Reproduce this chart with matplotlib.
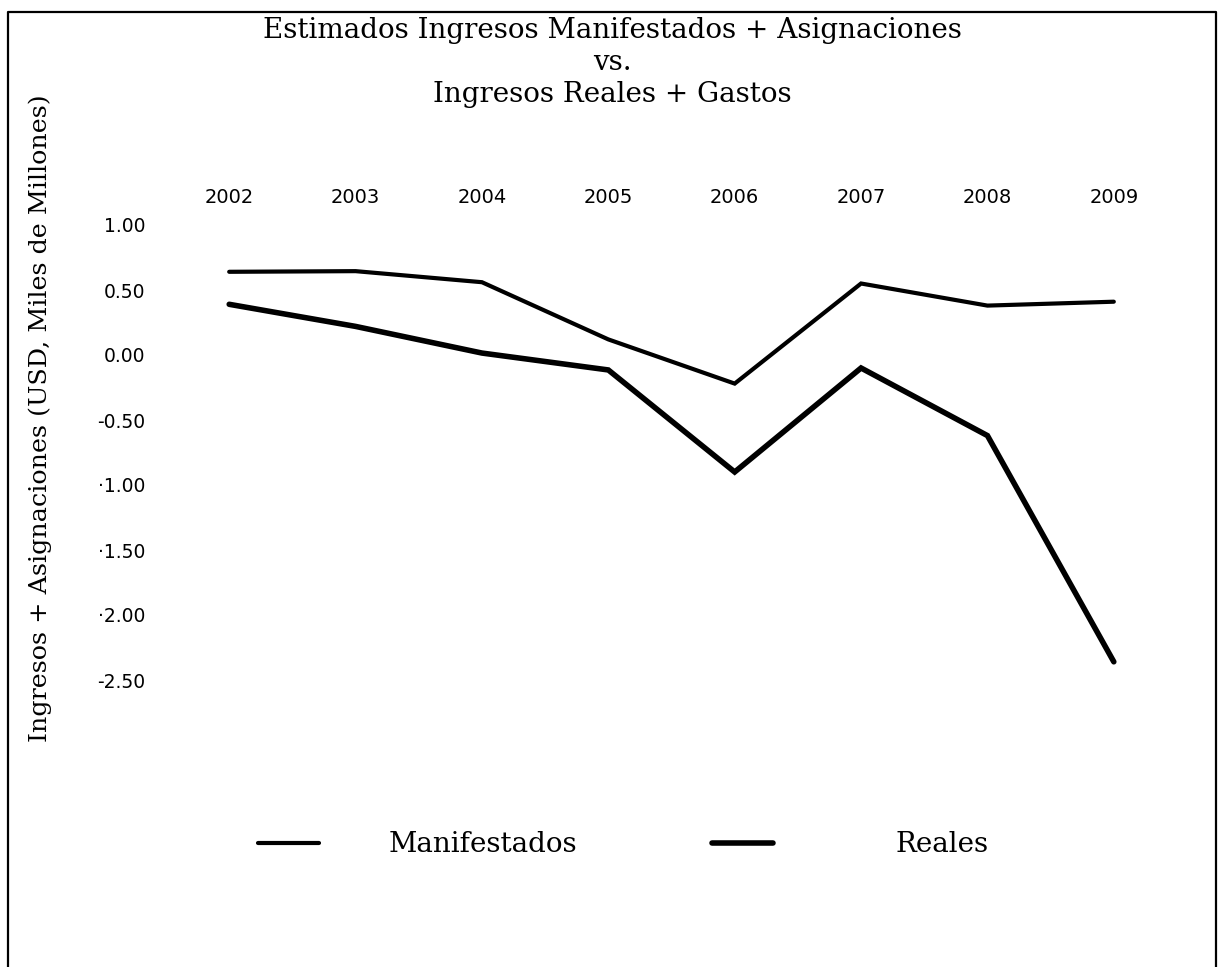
import matplotlib
matplotlib.use("Agg")
import matplotlib.pyplot as plt
from matplotlib.lines import Line2D

years = [2002, 2003, 2004, 2005, 2006, 2007, 2008, 2009]
manifestados = [0.64, 0.645, 0.56, 0.12, -0.22, 0.55, 0.38, 0.41]
reales = [0.39, 0.22, 0.015, -0.115, -0.90, -0.10, -0.62, -2.36]
yticks = [1.0, 0.5, 0.0, -0.5, -1.0, -1.5, -2.0, -2.5]
ytick_labels = ["1.00", "0.50", "0.00", "-0.50", "·1.00", "·1.50", "·2.00", "-2.50"]
title_lines = ["Estimados Ingresos Manifestados + Asignaciones", "vs.", "Ingresos Reales + Gastos"]
ylabel = "Ingresos + Asignaciones (USD, Miles de Millones)"

W, H = 1220, 967
fig = plt.figure(figsize=(W / 100, H / 100), dpi=100)
fig.patch.set_facecolor("white")

# border (left, top, right)
bx0, bx1, by1 = 8 / W, 1216 / W, 1 - 12 / H
fig.add_artist(Line2D([bx0, bx0, bx1, bx1], [0, by1, by1, 0], transform=fig.transFigure,
                      color="black", lw=1.6))

ax = fig.add_axes([166 / W, 1 - 810 / H, (1177 - 166) / W, (810 - 225) / H])
ax.set_xlim(2001.5, 2009.5)
ax.set_ylim(-3.5, 1.0)
for s in ax.spines.values():
    s.set_visible(False)

l1, = ax.plot(years, manifestados, color="black", lw=3.0, solid_joinstyle="miter",
              solid_capstyle="round", label="Manifestados")
l2, = ax.plot(years, reales, color="black", lw=4.0, solid_joinstyle="miter",
              solid_capstyle="round", label="Reales")

ax.xaxis.tick_top()
ax.set_xticks(years)
ax.set_xticklabels([str(y) for y in years], fontsize=14, family="DejaVu Sans")
ax.tick_params(axis="x", length=0, pad=13)
ax.set_yticks(yticks)
ax.set_yticklabels(ytick_labels, fontsize=13.5, family="DejaVu Sans")
ax.tick_params(axis="y", length=0, pad=15)

ty = [31, 62, 94]
for t, y in zip(title_lines, ty):
    fig.text(612 / W, 1 - y / H, t, ha="center", va="center", fontsize=20, family="DejaVu Serif")

fig.text(40 / W, 1 - 418 / H, ylabel, rotation=90, ha="center", va="center",
         fontsize=18.3, family="DejaVu Serif")

legprops = {"family": "DejaVu Serif", "size": 20}
leg1 = ax.legend(handles=[l1], loc="center left", bbox_to_anchor=(258 / W, 1 - 845 / H),
                 bbox_transform=fig.transFigure, frameon=False, prop=legprops,
                 handlelength=2.2, handletextpad=2.5, borderpad=0, borderaxespad=0)
ax.add_artist(leg1)
leg2 = ax.legend(handles=[l2], loc="center left", bbox_to_anchor=(712 / W, 1 - 845 / H),
                 bbox_transform=fig.transFigure, frameon=False, prop=legprops,
                 handlelength=2.2, handletextpad=4.4, borderpad=0, borderaxespad=0)

fig.savefig("out.png", dpi=100, facecolor="white")
